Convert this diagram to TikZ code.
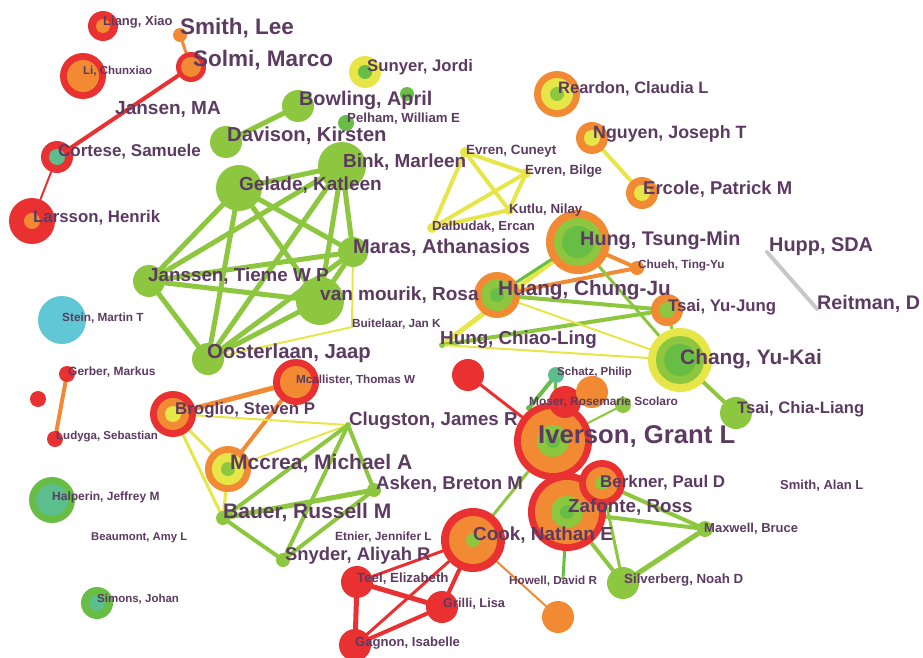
\documentclass[tikz,border=0pt]{standalone}
\usepackage{fontspec}
\setmainfont{Liberation Sans}
\usetikzlibrary{positioning}
\definecolor{vred}{RGB}{233,49,49}
\definecolor{vorange}{RGB}{242,138,52}
\definecolor{vyellow}{RGB}{230,230,72}
\definecolor{vlgreen}{RGB}{141,198,63}
\definecolor{vgreen}{RGB}{104,189,69}
\definecolor{vteal}{RGB}{92,190,140}
\definecolor{vcyan}{RGB}{96,200,212}
\definecolor{vgrey}{RGB}{200,200,200}
\definecolor{labc}{RGB}{92,58,98}
\pgfdeclarelayer{edges}
\pgfsetlayers{edges,main}

\begin{document}
\begin{tikzpicture}[x=1pt, y=-1pt,
    bub/.style = {circle, inner sep=0pt, minimum size=#1},
    lbl/.style = {anchor=base west, inner sep=0pt, text=labc, font=\fontsize{#1}{#1}\selectfont\bfseries},
    lk/.style = {line width=#1pt, line cap=round}]
\useasboundingbox (0,0) rectangle (923,658);

% top left
\node[bub=30pt, fill=vred] (liang) at (103,26) {};
\fill[vorange] (liang) circle (7pt);
\node[bub=14pt, fill=vorange] (smithl) at (180,35) {};
\node[bub=30pt, fill=vred] (solmi) at (191,67) {};
\fill[vorange] (solmi) circle (10pt);
\node[bub=46pt, fill=vred] (lichun) at (83,76) {};
\fill[vorange] (lichun) circle (16pt);
\node[bub=32pt, fill=vred] (cortese) at (57,157) {};
\fill[vteal] (cortese) circle (8pt);
\node[bub=46pt, fill=vred] (larsson) at (32,221) {};
\fill[vorange] (larsson) circle (8pt);

% green cluster
\node[bub=32pt, fill=vyellow] (sunyer) at (365,72) {};
\fill[vgreen] (sunyer) circle (7pt);
\node[bub=32pt, fill=vlgreen] (bowling) at (298,106) {};
\node[bub=14pt, fill=vgreen] (g1) at (407,94) {};
\node[bub=16pt, fill=vgreen] (pelham) at (346,123) {};
\node[bub=32pt, fill=vlgreen] (davison) at (226,142) {};
\node[bub=48pt, fill=vlgreen] (bink) at (342,166) {};
\node[bub=46pt, fill=vlgreen] (gelade) at (239,188) {};
\node[bub=30pt, fill=vlgreen] (maras) at (353,252) {};
\node[bub=32pt, fill=vlgreen] (janssen) at (149,281) {};
\node[bub=48pt, fill=vlgreen] (vanm) at (320,301) {};
\node[bub=32pt, fill=vlgreen] (ooster) at (208,359) {};
\coordinate (buit) at (352,327);

% yellow cluster
\node[bub=10pt, fill=vyellow] (evrenc) at (465,152) {};
\node[bub=10pt, fill=vyellow] (evrenb) at (526,173) {};
\node[bub=10pt, fill=vyellow] (kutlu) at (509,210) {};
\node[bub=10pt, fill=vyellow] (dalb) at (432,228) {};

% top right
\node[bub=46pt, fill=vorange] (reardon) at (557,94) {};
\fill[vyellow] (reardon) circle (16pt);
\fill[vlgreen] (reardon) circle (7pt);
\node[bub=32pt, fill=vorange] (nguyen) at (592,138) {};
\fill[vyellow] (nguyen) circle (8pt);
\node[bub=32pt, fill=vorange] (ercole) at (642,193) {};
\fill[vyellow] (ercole) circle (8pt);

% hung cluster
\node[bub=64pt, fill=vorange] (hungtm) at (578,242) {};
\fill[vlgreen] (hungtm) circle (24pt);
\fill[vgreen] (hungtm) circle (16pt);
\node[bub=14pt, fill=vorange] (chueh) at (637,268) {};
\node[bub=46pt, fill=vorange] (huang) at (497,295) {};
\fill[vlgreen] (huang) circle (16pt);
\fill[vgreen] (huang) circle (7pt);
\node[bub=32pt, fill=vorange] (tsaiyj) at (667,310) {};
\fill[vlgreen] (tsaiyj) circle (8pt);
\node[bub=6pt, fill=vlgreen] (hungcl) at (442,345) {};
\node[bub=64pt, fill=vyellow] (chang) at (680,360) {};
\fill[vlgreen] (chang) circle (24pt);
\fill[vgreen] (chang) circle (16pt);
\node[bub=32pt, fill=vlgreen] (tsaicl) at (736,413) {};
\node[bub=4pt, fill=vgrey] (hupp) at (767,252) {};
\node[bub=4pt, fill=vgrey] (reitman) at (817,309) {};

% left column
\node[bub=48pt, fill=vcyan] (stein) at (62,320) {};
\node[bub=16pt, fill=vred] (gerber) at (67,374) {};
\node[bub=16pt, fill=vred] (r1) at (38,399) {};
\node[bub=16pt, fill=vred] (ludyga) at (55,439) {};
\node[bub=46pt, fill=vgreen] (halperin) at (52,500) {};
\fill[vteal] (halperin) circle (16pt);
\node[bub=32pt, fill=vgreen] (simons) at (97,603) {};
\fill[vteal] (simons) circle (8pt);

% broglio cluster
\node[bub=46pt, fill=vred] (mcall) at (296,382) {};
\fill[vorange] (mcall) circle (16pt);
\node[bub=46pt, fill=vred] (broglio) at (173,414) {};
\fill[vorange] (broglio) circle (16pt);
\fill[vyellow] (broglio) circle (8pt);
\node[bub=6pt, fill=vlgreen] (clugston) at (348,425) {};
\node[bub=46pt, fill=vorange] (mccrea) at (228,469) {};
\fill[vyellow] (mccrea) circle (16pt);
\fill[vlgreen] (mccrea) circle (7pt);
\node[bub=14pt, fill=vlgreen] (asken) at (374,490) {};
\node[bub=14pt, fill=vlgreen] (bauer) at (223,518) {};
\node[bub=14pt, fill=vlgreen] (snyder) at (283,560) {};

% iverson cluster
\node[bub=32pt, fill=vred] (r3) at (468,375) {};
\node[bub=16pt, fill=vteal] (schatz) at (556,375) {};
\node[bub=6pt, fill=vgreen] (moser) at (529,408) {};
\node[bub=16pt, fill=vlgreen] (g2) at (623,405) {};
\node[bub=78pt, fill=vred] (iverson) at (553,441) {};
\fill[vorange] (iverson) circle (32pt);
\fill[vlgreen] (iverson) circle (16pt);
\fill[vgreen] (iverson) circle (7pt);
\node[bub=32pt, fill=vred] (r2) at (565,402) {};
\node[bub=32pt, fill=vorange] (o1) at (592,392) {};
\node[bub=78pt, fill=vred] (zafonte) at (567,512) {};
\fill[vorange] (zafonte) circle (32pt);
\fill[vlgreen] (zafonte) circle (16pt);
\fill[vgreen] (zafonte) circle (7pt);
\node[bub=46pt, fill=vred] (berkner) at (602,483) {};
\fill[vorange] (berkner) circle (16pt);
\fill[vlgreen] (berkner) circle (7pt);
\node[bub=64pt, fill=vred] (cook) at (473,540) {};
\fill[vorange] (cook) circle (24pt);
\fill[vlgreen] (cook) circle (7pt);
\node[bub=16pt, fill=vlgreen] (maxwell) at (705,529) {};
\node[bub=32pt, fill=vlgreen] (silverberg) at (623,583) {};
\node[bub=4pt, fill=vlgreen] (howell) at (563,578) {};
\node[bub=32pt, fill=vorange] (o2) at (558,617) {};
\node[bub=32pt, fill=vred] (teel) at (357,582) {};
\node[bub=32pt, fill=vred] (grilli) at (442,607) {};
\node[bub=32pt, fill=vred] (gagnon) at (355,645) {};

% links
\begin{pgfonlayer}{edges}
\draw[lk=3, vorange] (smithl) -- (solmi);
\draw[lk=4, vred] (solmi) -- (cortese);
\draw[lk=2, vred] (cortese) -- (larsson);
\draw[lk=5, vlgreen] (davison) -- (bowling);
\draw[lk=5, vlgreen] (gelade) -- (bink);
\draw[lk=5, vlgreen] (gelade) -- (maras);
\draw[lk=5, vlgreen] (gelade) -- (janssen);
\draw[lk=5, vlgreen] (gelade) -- (vanm);
\draw[lk=5, vlgreen] (gelade) -- (ooster);
\draw[lk=5, vlgreen] (bink) -- (janssen);
\draw[lk=5, vlgreen] (bink) -- (maras);
\draw[lk=5, vlgreen] (bink) -- (vanm);
\draw[lk=5, vlgreen] (bink) -- (ooster);
\draw[lk=5, vlgreen] (maras) -- (janssen);
\draw[lk=5, vlgreen] (maras) -- (vanm);
\draw[lk=5, vlgreen] (maras) -- (ooster);
\draw[lk=5, vlgreen] (janssen) -- (vanm);
\draw[lk=5, vlgreen] (janssen) -- (ooster);
\draw[lk=5, vlgreen] (vanm) -- (ooster);
\draw[lk=2, vyellow] (maras) -- (buit) -- (ooster);
\draw[lk=4, vyellow] (evrenc) -- (evrenb);
\draw[lk=4, vyellow] (evrenc) -- (kutlu);
\draw[lk=4, vyellow] (evrenc) -- (dalb);
\draw[lk=4, vyellow] (evrenb) -- (kutlu);
\draw[lk=4, vyellow] (evrenb) -- (dalb);
\draw[lk=4, vyellow] (kutlu) -- (dalb);
\draw[lk=4, vyellow] (nguyen) -- (ercole);
\draw[lk=4, vorange] (hungtm) -- (chueh);
\draw[lk=4, vorange] (huang) -- (chueh);
\draw[lk=5, vyellow] (hungcl) -- (hungtm);
\draw[lk=3, vgreen] (huang) -- (hungtm);
\draw[lk=4, vlgreen] (huang) -- (tsaiyj);
\draw[lk=4, vlgreen] (hungcl) -- (tsaiyj);
\draw[lk=2, vyellow] (huang) -- (chang);
\draw[lk=2, vyellow] (hungcl) -- (chang);
\draw[lk=3, vlgreen] (hungtm) -- (chang);
\draw[lk=3, vlgreen] (tsaiyj) -- (chang);
\draw[lk=4, vlgreen] (chang) -- (tsaicl);
\draw[lk=4, vgrey] (hupp) -- (reitman);
\draw[lk=4, vorange] (gerber) -- (ludyga);
\draw[lk=5, vorange] (mcall) -- (broglio);
\draw[lk=4, vorange] (mcall) -- (mccrea);
\draw[lk=2, vyellow] (broglio) -- (clugston);
\draw[lk=2, vyellow] (mccrea) -- (clugston);
\draw[lk=3, vyellow] (broglio) -- (mccrea);
\draw[lk=3, vyellow] (broglio) -- (bauer);
\draw[lk=3, vyellow] (mccrea) -- (bauer);
\draw[lk=4, vlgreen] (clugston) -- (bauer);
\draw[lk=4, vlgreen] (clugston) -- (snyder);
\draw[lk=4, vlgreen] (clugston) -- (asken);
\draw[lk=5, vlgreen] (bauer) -- (asken);
\draw[lk=4, vlgreen] (bauer) -- (snyder);
\draw[lk=4, vlgreen] (snyder) -- (asken);
\draw[lk=3, vred] (r3) -- (iverson);
\draw[lk=4, vgreen] (moser) -- (schatz);
\draw[lk=3, vgreen] (schatz) -- (iverson);
\draw[lk=2, vlgreen] (iverson) -- (g2);
\draw[lk=3, vlgreen] (iverson) -- (cook);
\draw[lk=4, vlgreen] (zafonte) -- (maxwell);
\draw[lk=4, vlgreen] (zafonte) -- (silverberg);
\draw[lk=4, vlgreen] (berkner) -- (maxwell);
\draw[lk=3, vlgreen] (berkner) -- (silverberg);
\draw[lk=5, vlgreen] (silverberg) -- (maxwell);
\draw[lk=3, vgreen] (zafonte) -- (howell);
\draw[lk=2, vorange] (cook) -- (o2);
\draw[lk=3, vred] (cook) -- (teel);
\draw[lk=4, vred] (cook) -- (grilli);
\draw[lk=3, vred] (cook) -- (gagnon);
\draw[lk=5, vred] (teel) -- (grilli);
\draw[lk=5, vred] (teel) -- (gagnon);
\draw[lk=4, vred] (gagnon) -- (grilli);
\end{pgfonlayer}

% labels
\node[lbl=13] (t1) at (103,26) {Liang, Xiao};
\node[lbl=22.5] (t2) at (180,35) {Smith, Lee};
\node[lbl=22.5] (t3) at (193,67) {Solmi, Marco};
\node[lbl=11.5] (t4) at (83,75) {Li, Chunxiao};
\node[lbl=19] (t5) at (115,115) {Jansen, MA};
\node[lbl=17] (t6) at (58,157) {Cortese, Samuele};
\node[lbl=16.8] (t7) at (33,222) {Larsson, Henrik};
\node[lbl=16.7] (t8) at (367,72) {Sunyer, Jordi};
\node[lbl=19.8] (t9) at (299,106) {Bowling, April};
\node[lbl=13.2] (t10) at (347,123) {Pelham, William E};
\node[lbl=20.2] (t11) at (227,142) {Davison, Kirsten};
\node[lbl=18.9] (t12) at (343,167) {Bink, Marleen};
\node[lbl=19] (t13) at (239,190) {Gelade, Katleen};
\node[lbl=20] (t14) at (353,253) {Maras, Athanasios};
\node[lbl=18.8] (t15) at (148,281) {Janssen, Tieme W P};
\node[lbl=19] (t16) at (320,300) {van mourik, Rosa};
\node[lbl=11.8] (t17) at (352,327) {Buitelaar, Jan K};
\node[lbl=20.3] (t18) at (207,358) {Oosterlaan, Jaap};
\node[lbl=13.4] (t19) at (466,154) {Evren, Cuneyt};
\node[lbl=13.3] (t20) at (525,174) {Evren, Bilge};
\node[lbl=13.3] (t21) at (509,213) {Kutlu, Nilay};
\node[lbl=13.1] (t22) at (432,230) {Dalbudak, Ercan};
\node[lbl=16.5] (t23) at (558,94) {Reardon, Claudia L};
\node[lbl=17.8] (t24) at (593,139) {Nguyen, Joseph T};
\node[lbl=18.5] (t25) at (643,194) {Ercole, Patrick M};
\node[lbl=19.8] (t26) at (580,245) {Hung, Tsung-Min};
\node[lbl=11.8] (t27) at (638,268) {Chueh, Ting-Yu};
\node[lbl=20.7] (t28) at (498,295) {Huang, Chung-Ju};
\node[lbl=16.8] (t29) at (668,311) {Tsai, Yu-Jung};
\node[lbl=18.8] (t30) at (440,344) {Hung, Chiao-Ling};
\node[lbl=20.9] (t31) at (680,364) {Chang, Yu-Kai};
\node[lbl=16.6] (t32) at (737,413) {Tsai, Chia-Liang};
\node[lbl=19.9] (t33) at (769,251) {Hupp, SDA};
\node[lbl=19.7] (t34) at (817,309) {Reitman, D};
\node[lbl=11.8] (t35) at (62,321) {Stein, Martin T};
\node[lbl=12] (t36) at (68,375) {Gerber, Markus};
\node[lbl=11.5] (t37) at (56,439) {Ludyga, Sebastian};
\node[lbl=11.7] (t38) at (296,383) {Mcallister, Thomas W};
\node[lbl=16.9] (t39) at (175,414) {Broglio, Steven P};
\node[lbl=18.7] (t40) at (349,425) {Clugston, James R};
\node[lbl=21] (t41) at (230,469) {Mccrea, Michael A};
\node[lbl=18.6] (t42) at (376,489) {Asken, Breton M};
\node[lbl=21] (t43) at (223,518) {Bauer, Russell M};
\node[lbl=11.9] (t44) at (335,540) {Etnier, Jennifer L};
\node[lbl=18.4] (t45) at (285,560) {Snyder, Aliyah R};
\node[lbl=25.7] (t46) at (538,443) {Iverson, Grant L};
\node[lbl=11.5] (t47) at (557,375) {Schatz, Philip};
\node[lbl=11.9] (t48) at (529,405) {Moser, Rosemarie Scolaro};
\node[lbl=16.9] (t49) at (600,487) {Berkner, Paul D};
\node[lbl=18.8] (t50) at (568,512) {Zafonte, Ross};
\node[lbl=18.9] (t51) at (473,540) {Cook, Nathan E};
\node[lbl=13] (t52) at (704,532) {Maxwell, Bruce};
\node[lbl=13.3] (t53) at (624,583) {Silverberg, Noah D};
\node[lbl=11.7] (t54) at (509,584) {Howell, David R};
\node[lbl=13.3] (t55) at (357,582) {Teel, Elizabeth};
\node[lbl=12.8] (t56) at (443,607) {Grilli, Lisa};
\node[lbl=13.1] (t57) at (355,646) {Gagnon, Isabelle};
\node[lbl=12] (t58) at (52,500) {Halperin, Jeffrey M};
\node[lbl=11.3] (t59) at (91,540) {Beaumont, Amy L};
\node[lbl=11.5] (t60) at (97,602) {Simons, Johan};
\node[lbl=13] (t61) at (780,489) {Smith, Alan L};
\end{tikzpicture}
\end{document}
